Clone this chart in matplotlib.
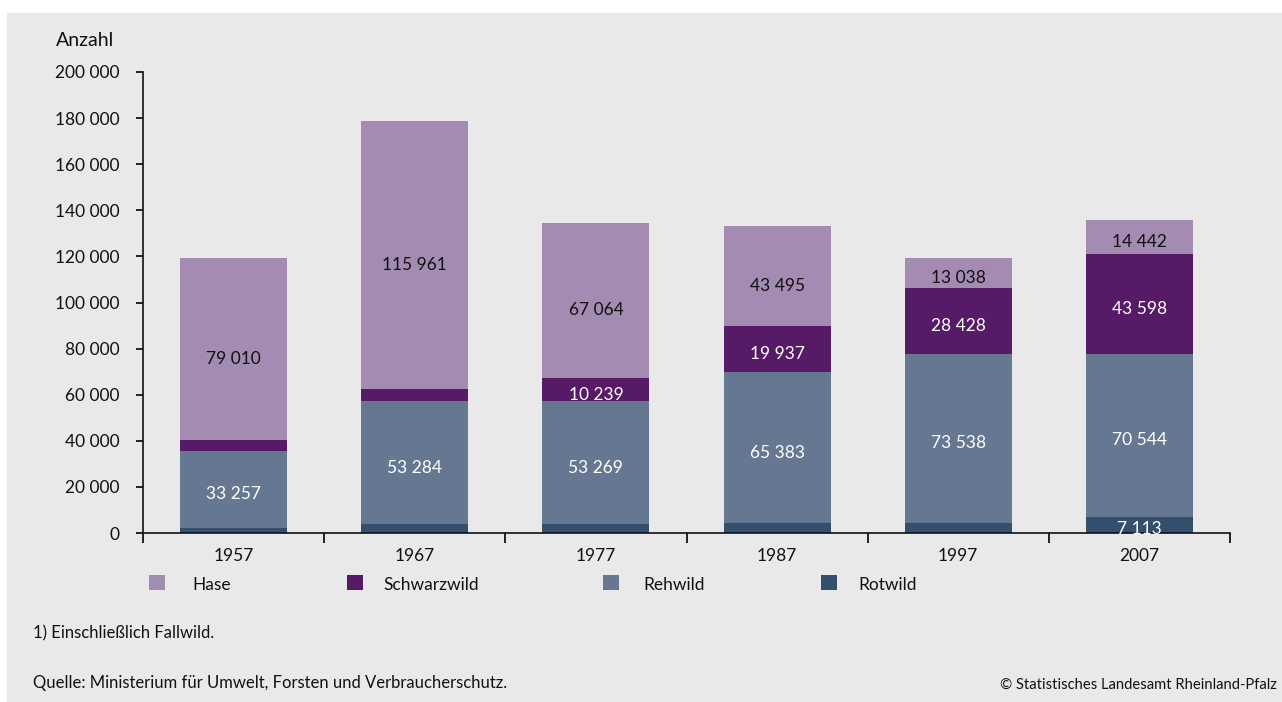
import matplotlib
matplotlib.use("Agg")
import matplotlib.pyplot as plt
from matplotlib.patches import Rectangle
import numpy as np

plt.rcParams['font.family'] = ['Lato', 'DejaVu Sans']

years = ["1957", "1967", "1977", "1987", "1997", "2007"]
series = ["Rotwild", "Rehwild", "Schwarzwild", "Hase"]
rotwild = [2200, 3800, 3800, 4300, 4200, 7113]
rehwild = [33257, 53284, 53269, 65383, 73538, 70544]
schwarzwild = [4700, 5600, 10239, 19937, 28428, 43598]
hase = [79010, 115961, 67064, 43495, 13038, 14442]
# which values carry a printed label
show_rot = [False, False, False, False, False, True]
show_reh = [True] * 6
show_schwarz = [False, False, True, True, True, True]
show_hase = [True] * 6

colors = {"Hase": "#a38bb2", "Schwarzwild": "#561a66",
          "Rehwild": "#667891", "Rotwild": "#344f6e"}
text_colors = {"Hase": "#111111", "Schwarzwild": "white",
               "Rehwild": "white", "Rotwild": "white"}
legend_order = ["Hase", "Schwarzwild", "Rehwild", "Rotwild"]
yticks = [0, 20000, 40000, 60000, 80000, 100000, 120000, 140000, 160000, 180000, 200000]

def fmt(v):
    return f"{v:,}".replace(",", " ")

W, H = 1282, 702
fig = plt.figure(figsize=(W / 100, H / 100), dpi=100)
fig.patch.set_facecolor("white")
bg = "#e9e9e9"
fig.add_artist(Rectangle((7 / W, 0), 1 - 7 / W, 1 - 13 / H, transform=fig.transFigure,
                         facecolor=bg, edgecolor="none", zorder=-10))

ax = fig.add_axes([143 / W, 1 - 533 / H, (1230 - 143) / W, (533 - 72) / H])
ax.set_facecolor(bg)
x = np.arange(len(years))
width = 0.59

data = {"Rotwild": rotwild, "Rehwild": rehwild, "Schwarzwild": schwarzwild, "Hase": hase}
shows = {"Rotwild": show_rot, "Rehwild": show_reh, "Schwarzwild": show_schwarz, "Hase": show_hase}
px_per_unit = (533 - 72) / 200000
bottom = np.zeros(len(years))
for s in series:
    vals = np.array(data[s], dtype=float)
    ax.bar(x, vals, width, bottom=bottom, color=colors[s], edgecolor="none", zorder=2)
    for i, v in enumerate(vals):
        if shows[s][i]:
            yc = bottom[i] + v / 2
            seg_px = v * px_per_unit
            off = -3.5
            if s == "Hase" and seg_px > 60:
                off = -7
            if s == "Rotwild":
                off = -3
            ax.annotate(fmt(int(v)), (x[i], yc), xytext=(0, off), textcoords="offset points",
                        ha="center", va="center", color=text_colors[s], fontsize=12.5, zorder=3)
    bottom += vals

ax.set_xlim(-0.5, len(years) - 0.5)
ax.set_ylim(0, 200000)
ax.set_yticks(yticks)
ax.set_yticklabels([fmt(t) for t in yticks], fontsize=12.5, color="#111111")
ax.tick_params(axis="y", direction="out", length=5, width=1.2, pad=12)
ax.set_xticks(np.arange(-0.5, len(years), 1.0))
ax.set_xticklabels([])
ax.tick_params(axis="x", which="major", direction="out", length=7, width=1.2)
ax.set_xticks(x, minor=True)
ax.set_xticklabels(years, minor=True, fontsize=12.5, color="#111111")
ax.tick_params(axis="x", which="minor", length=0, pad=11)
for sp in ["top", "right"]:
    ax.spines[sp].set_visible(False)
for sp in ["left", "bottom"]:
    ax.spines[sp].set_linewidth(1.2)
    ax.spines[sp].set_color("#111111")

fig.text(56 / W, 1 - 40 / H, "Anzahl", fontsize=14, ha="left", va="center", color="#111111")

# legend
sq_x = [149, 347, 603, 821]
lab_x = [192, 383, 643, 858]
for name, sx, lx in zip(legend_order, sq_x, lab_x):
    fig.add_artist(Rectangle((sx / W, 1 - 590 / H), 16 / W, 15 / H, transform=fig.transFigure,
                             facecolor=colors[name], edgecolor="none"))
    fig.text(lx / W, 1 - 585 / H, name, fontsize=12.5, ha="left", va="center", color="#111111")

fig.text(33 / W, 1 - 633 / H, "1) Einschließlich Fallwild.", fontsize=12, ha="left", va="center", color="#111111")
fig.text(33 / W, 1 - 683 / H, "Quelle: Ministerium für Umwelt, Forsten und Verbraucherschutz.",
         fontsize=12, ha="left", va="center", color="#111111")
fig.text(1277 / W, 1 - 685 / H, "© Statistisches Landesamt Rheinland-Pfalz", fontsize=10.6,
         ha="right", va="center", color="#111111")

fig.savefig("out.png", dpi=100, facecolor=fig.get_facecolor())
